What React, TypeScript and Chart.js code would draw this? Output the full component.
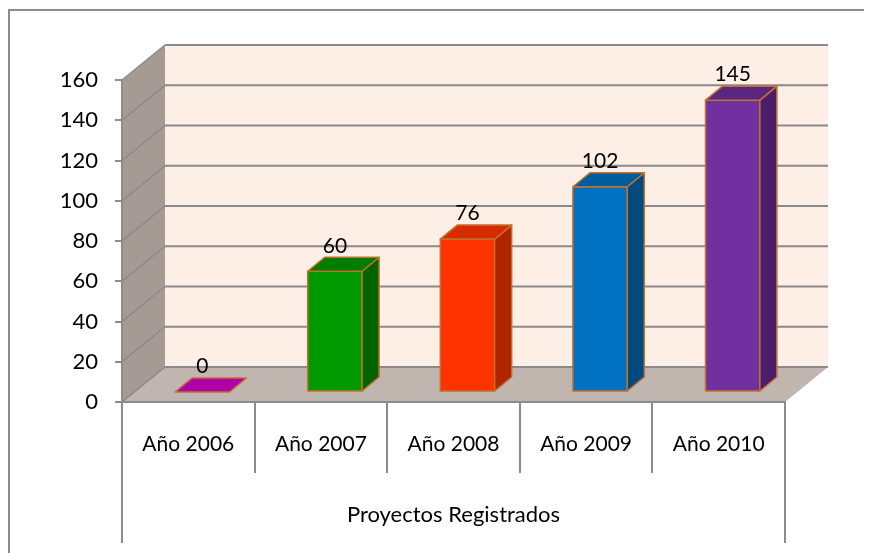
import React, { useEffect, useRef } from 'react';
import { Chart, registerables } from 'chart.js';

Chart.register(...registerables);

const categories = ['Año 2006', 'Año 2007', 'Año 2008', 'Año 2009', 'Año 2010'];
const values = [0, 60, 76, 102, 145];
const frontColors = ['#B000A8', '#009900', '#FF3300', '#0070C0', '#7030A0'];
const sideColors = ['#780072', '#006400', '#B02400', '#004A80', '#4A1E6A'];
const topColors = ['#95008E', '#007C00', '#D82B00', '#005C9E', '#5A2682'];
const axisTitle = 'Proyectos Registrados';
const yMin = 0;
const yMax = 160;
const yStep = 20;

const FONT = 'Lato, "Noto Sans", sans-serif';
const WALL_DX = 43;
const WALL_DY = -35;
const FRONT_DX = 14;
const FRONT_DY = -10;
const BAR_DX = 17;
const BAR_DY = -14;
const GRID = '#8c8c8c';
const BORDER = '#C0712C';

const poly = (ctx: CanvasRenderingContext2D, pts: number[][], fill: string, stroke?: string, lw = 1.5) => {
  ctx.beginPath();
  ctx.moveTo(pts[0][0], pts[0][1]);
  for (let i = 1; i < pts.length; i++) ctx.lineTo(pts[i][0], pts[i][1]);
  ctx.closePath();
  ctx.fillStyle = fill;
  ctx.fill();
  if (stroke) {
    ctx.strokeStyle = stroke;
    ctx.lineWidth = lw;
    ctx.lineJoin = 'round';
    ctx.stroke();
  }
};

const line = (ctx: CanvasRenderingContext2D, x0: number, y0: number, x1: number, y1: number, color = GRID, lw = 2) => {
  ctx.beginPath();
  ctx.moveTo(x0, y0);
  ctx.lineTo(x1, y1);
  ctx.strokeStyle = color;
  ctx.lineWidth = lw;
  ctx.stroke();
};

const threeD = {
  id: 'threeD',
  beforeDraw(chart: any) {
    const ctx = chart.ctx as CanvasRenderingContext2D;
    const { left: L, right: R, top: T, bottom: B } = chart.chartArea;
    const y = chart.scales.y;
    ctx.save();
    ctx.fillStyle = '#ffffff';
    ctx.fillRect(0, 0, chart.width, chart.height);
    // frame
    line(ctx, 0, 2, chart.width, 2, '#8c8c8c', 2);
    line(ctx, 1, 2, 1, chart.height, '#8c8c8c', 2);
    // back wall
    poly(ctx, [[L + WALL_DX, T + WALL_DY], [R + WALL_DX, T + WALL_DY], [R + WALL_DX, B + WALL_DY], [L + WALL_DX, B + WALL_DY]], '#FDEEE6');
    // left wall
    poly(ctx, [[L, T], [L + WALL_DX, T + WALL_DY], [L + WALL_DX, B + WALL_DY], [L, B]], '#A59A94');
    // floor
    poly(ctx, [[L, B], [L + WALL_DX, B + WALL_DY], [R + WALL_DX, B + WALL_DY], [R, B]], '#C1B5B0');
    // gridlines
    for (let v = yMin; v <= yMax; v += yStep) {
      const py = y.getPixelForValue(v);
      line(ctx, L, py, L + WALL_DX, py + WALL_DY, '#8a8a8a', 1.5);
      line(ctx, L + WALL_DX, py + WALL_DY, R + WALL_DX, py + WALL_DY, '#8a8a8a', 2);
    }
    // outer category lines
    line(ctx, L, B, L, chart.height - 10, GRID, 2);
    line(ctx, R, B, R, chart.height - 10, GRID, 2);
    ctx.restore();
  },
  afterDatasetsDraw(chart: any) {
    const ctx = chart.ctx as CanvasRenderingContext2D;
    const meta = chart.getDatasetMeta(0);
    ctx.save();
    meta.data.forEach((el: any, i: number) => {
      const p = el.getProps(['x', 'y', 'base', 'width'], true);
      const x0 = p.x - p.width / 2 + FRONT_DX;
      const x1 = p.x + p.width / 2 + FRONT_DX;
      const top = p.y + FRONT_DY;
      const bot = p.base + FRONT_DY;
      if (bot - top > 0.5) {
        poly(ctx, [[x0, top], [x1, top], [x1, bot], [x0, bot]], frontColors[i], BORDER);
        poly(ctx, [[x1, top], [x1 + BAR_DX, top + BAR_DY], [x1 + BAR_DX, bot + BAR_DY], [x1, bot]], sideColors[i], BORDER);
        poly(ctx, [[x0, top], [x0 + BAR_DX, top + BAR_DY], [x1 + BAR_DX, top + BAR_DY], [x1, top]], topColors[i], BORDER);
      } else {
        poly(ctx, [[x0, top], [x0 + BAR_DX, top + BAR_DY], [x1 + BAR_DX, top + BAR_DY], [x1, top]], frontColors[i], BORDER);
      }
      ctx.fillStyle = '#000';
      ctx.font = `21px ${FONT}`;
      ctx.textAlign = 'center';
      ctx.textBaseline = 'bottom';
      ctx.fillText(String(values[i]), (x0 + x1) / 2, top + BAR_DY - 1);
    });
    ctx.restore();
  },
};

export default function App() {
  const ref = useRef<HTMLCanvasElement | null>(null);
  useEffect(() => {
    if (!ref.current) return;
    const chart = new Chart(ref.current, {
      type: 'bar',
      data: {
        labels: categories,
        datasets: [
          {
            data: values,
            backgroundColor: 'rgba(0,0,0,0)',
            borderWidth: 0,
            barPercentage: 0.41,
            categoryPercentage: 1,
          },
        ],
      },
      plugins: [threeD],
      options: {
        responsive: false,
        animation: false,
        devicePixelRatio: 1,
        layout: { padding: { left: 0, right: 87, top: 72, bottom: 0 } },
        plugins: { legend: { display: false }, tooltip: { enabled: false } },
        scales: {
          x: {
            type: 'category',
            offset: true,
            afterFit: (s: any) => {
              s.height = 151;
            },
            grid: {
              offset: true,
              drawOnChartArea: false,
              drawTicks: true,
              tickLength: 71,
              color: GRID,
              lineWidth: 2,
            },
            border: { display: true, color: GRID, width: 2 },
            ticks: {
              padding: -41,
              color: '#000',
              font: { family: FONT, size: 21 },
              maxRotation: 0,
            },
            title: {
              display: true,
              text: axisTitle,
              color: '#000',
              font: { family: FONT, size: 22 },
              padding: { top: 0, bottom: 25 },
            },
          },
          y: {
            min: yMin,
            max: yMax,
            afterFit: (s: any) => {
              s.width = 114;
            },
            ticks: {
              stepSize: yStep,
              padding: 17,
              color: '#000',
              font: { family: FONT, size: 22 },
            },
            grid: {
              drawOnChartArea: false,
              drawTicks: true,
              tickLength: 7,
              color: GRID,
              lineWidth: 2,
            },
            border: { display: true, color: GRID, width: 2 },
          },
        },
      },
    });
    return () => chart.destroy();
  }, []);
  return (
    <div style={{ width: 864, height: 545 }}>
      <canvas ref={ref} width={864} height={545} style={{ display: 'block' }} />
    </div>
  );
}
